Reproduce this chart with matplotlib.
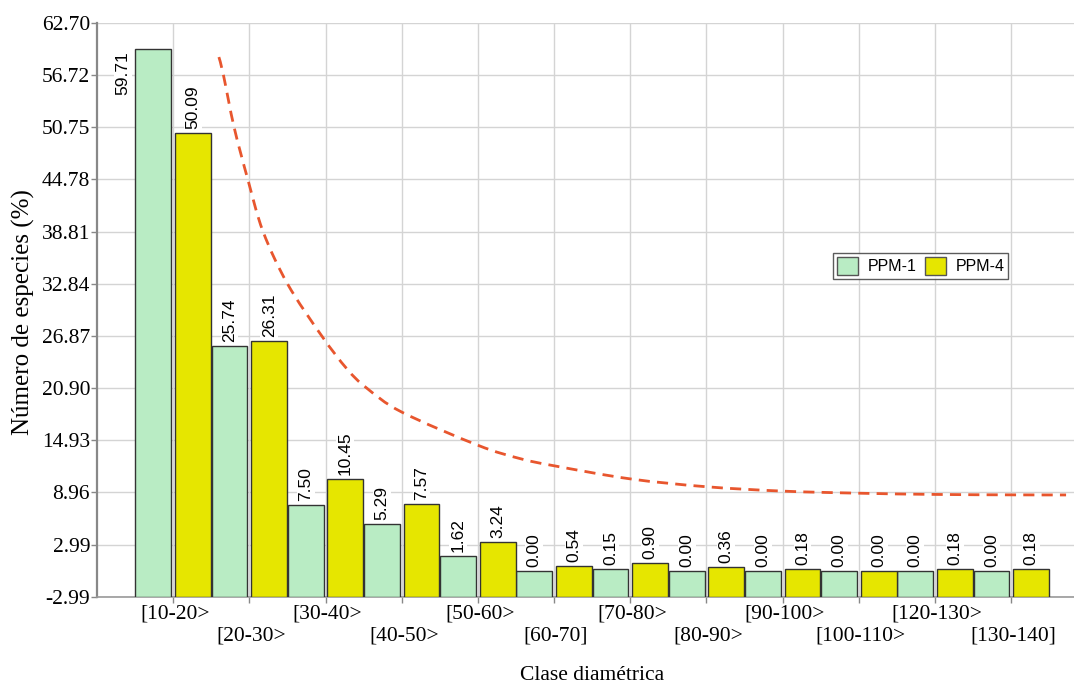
import numpy as np
import matplotlib
matplotlib.use("Agg")
import matplotlib.pyplot as plt
from matplotlib.patches import Patch, PathPatch
from matplotlib.path import Path

# ---------------- data ----------------
categories = ['[10-20>', '[20-30>', '[30-40>', '[40-50>', '[50-60>', '[60-70]',
              '[70-80>', '[80-90>', '[90-100>', '[100-110>', '[120-130>', '[130-140]']
ppm1 = [59.71, 25.74, 7.50, 5.29, 1.62, 0.00, 0.15, 0.00, 0.00, 0.00, 0.00, 0.00]
ppm4 = [50.09, 26.31, 10.45, 7.57, 3.24, 0.54, 0.90, 0.36, 0.18, 0.00, 0.18, 0.18]
series_names = ['PPM-1', 'PPM-4']

# dashed trend curve (x in category units)
trend_x = [0.60, 0.66, 0.80, 0.98, 1.18, 1.50, 1.95, 2.28, 2.54, 3.0, 4.0, 4.55,
           5.0, 6.0, 7.0, 8.0, 9.0, 10.0, 11.0, 11.72]
trend_y = [58.8, 56.72, 50.75, 44.78, 38.81, 32.84, 26.87, 23.1, 20.9, 18.15, 14.35,
           12.83, 12.0, 10.5, 9.6, 9.1, 8.86, 8.72, 8.67, 8.66]

ytick_labels = ['-2.99', '2.99', '8.96', '14.93', '20.90', '26.87', '32.84',
                '38.81', '44.78', '50.75', '56.72', '62.70']
ymin, ymax = -2.99, 62.70

# ---------------- style ----------------
green = '#b9ecc4'
yellow = '#e6e600'
edge = '#333333'
curve_color = '#e8562e'
serif = 'Liberation Serif'
sans = 'Liberation Sans'

W, H = 1074, 684
fig = plt.figure(figsize=(W / 100, H / 100), dpi=100)
ax_left, ax_bottom_px, ax_top_px = 97, 596.7, 23
ax = fig.add_axes([ax_left / W, 1 - ax_bottom_px / H, 1 - ax_left / W,
                   (ax_bottom_px - ax_top_px) / H])

x = np.arange(len(categories))
w = 0.47
off = 0.26
v1 = np.array(ppm1)
v4 = np.array(ppm4)

ax.bar(x - off, v1 - ymin, bottom=ymin, width=w, color=green, edgecolor=edge,
       linewidth=1, zorder=3)
ax.bar(x + off, v4 - ymin, bottom=ymin, width=w, color=yellow, edgecolor=edge,
       linewidth=1, zorder=3)

# smooth curve through the read points (Catmull-Rom drawn as Bezier path)
P = np.column_stack([trend_x, trend_y])
verts = [P[0]]
codes = [Path.MOVETO]
n = len(P)
for i in range(n - 1):
    p0 = P[i - 1] if i > 0 else P[i]
    p1 = P[i]
    p2 = P[i + 1]
    p3 = P[i + 2] if i + 2 < n else P[i + 1]
    verts += [p1 + (p2 - p0) / 6.0, p2 - (p3 - p1) / 6.0, p2]
    codes += [Path.CURVE4] * 3
ax.add_patch(PathPatch(Path(verts, codes), facecolor='none', edgecolor=curve_color,
                       linestyle=(0, (4, 2.6)), linewidth=2, zorder=4))

# value labels
lab_kw = dict(rotation=90, fontsize=12.5, family=sans, color='black', zorder=5,
              bbox=dict(facecolor='white', edgecolor='none', pad=1.0))
for i, (a, b) in enumerate(zip(v1, v4)):
    if i == 0:
        ax.annotate(f'{a:.2f}', (i - off - w / 2, a), xytext=(-5, -2),
                    textcoords='offset pixels', ha='right', va='top', **lab_kw)
    else:
        ax.annotate(f'{a:.2f}', (i - off, a), xytext=(0, 4),
                    textcoords='offset pixels', ha='center', va='bottom', **lab_kw)
    ax.annotate(f'{b:.2f}', (i + off, b), xytext=(0, 4),
                textcoords='offset pixels', ha='center', va='bottom', **lab_kw)

# axes limits / ticks
ax.set_xlim(-1.0, (W - 173) / 76.2)
ax.set_ylim(ymin, ymax)
yt = np.linspace(ymin, ymax, len(ytick_labels))
ax.set_yticks(yt)
ax.set_yticklabels(ytick_labels, family=serif, fontsize=15.5)
ax.set_xticks(x)
ax.set_xticklabels([''] * len(x))
for i, c in enumerate(categories):
    dy = -8 if i % 2 == 0 else -30
    ax.annotate(c, (i, 0), xycoords=('data', 'axes fraction'), xytext=(2, dy),
                textcoords='offset pixels', ha='center', va='top',
                family=serif, fontsize=15.5, annotation_clip=False)

ax.tick_params(axis='both', length=4, color='#888888', width=1)
ax.tick_params(axis='y', pad=1)
ax.grid(True, color='#d4d4d4', linewidth=1)
ax.set_axisbelow(True)
for s in ['top', 'right']:
    ax.spines[s].set_visible(False)
ax.spines['left'].set_color('#888888')
ax.spines['left'].set_linewidth(1.6)
ax.spines['bottom'].set_color('#999999')
ax.spines['bottom'].set_linewidth(1.2)

# legend
handles = [Patch(facecolor=green, edgecolor='#555555'),
           Patch(facecolor=yellow, edgecolor='#555555')]
leg = ax.legend(handles, series_names, loc='upper left',
                bbox_to_anchor=(833 / W, 1 - 253 / H), bbox_transform=fig.transFigure,
                ncol=2, fancybox=False, frameon=True, edgecolor='#333333',
                prop={'family': sans, 'size': 11.5}, handlelength=1.3, handleheight=1.35,
                handletextpad=0.6, columnspacing=0.55, borderpad=0.25, borderaxespad=0)
leg.get_frame().set_linewidth(1)

# axis titles
fig.text(23 / W, 1 - 312 / H, 'Número de especies (%)', rotation=90, ha='center',
         va='center', family=serif, fontsize=18)
fig.text(592 / W, 1 - 675 / H, 'Clase diamétrica', ha='center', va='center',
         family=serif, fontsize=15.5)

fig.savefig('out.png', dpi=100)
